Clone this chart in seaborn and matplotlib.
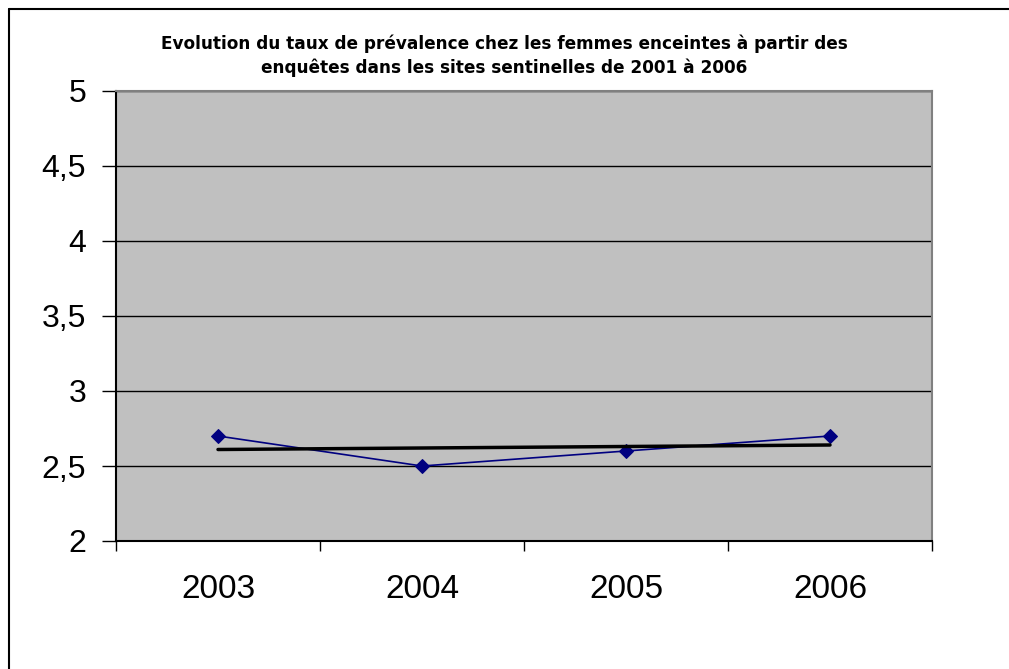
import numpy as np
import pandas as pd
import matplotlib
matplotlib.use("Agg")
import matplotlib.pyplot as plt
from matplotlib.lines import Line2D
import seaborn as sns

# data
years = ["2003", "2004", "2005", "2006"]
taux = [2.7, 2.5, 2.6, 2.7]
title = ("Evolution du taux de prévalence chez les femmes enceintes à partir des\n"
         "enquêtes dans les sites sentinelles de 2001 à 2006")

df = pd.DataFrame({"x": np.arange(len(years)), "annee": years, "taux": taux})

sns.set_style("white")
plt.rcParams['font.family'] = ['Liberation Sans', 'DejaVu Sans']
plt.rcParams['text.color'] = 'black'
plt.rcParams['xtick.color'] = 'black'
plt.rcParams['ytick.color'] = 'black'

fig = plt.figure(figsize=(10.09, 6.69), dpi=100)
ax = fig.add_axes([116 / 1009, 1 - 541 / 669, 816 / 1009, 450 / 669])
ax.set_facecolor("#C0C0C0")

# gridlines
ax.set_axisbelow(True)
ax.yaxis.grid(True, color="black", linewidth=1)
ax.xaxis.grid(False)

# series
sns.lineplot(data=df, x="x", y="taux", ax=ax, color="#000080", linewidth=1.2,
             marker="D", markersize=7, markeredgecolor="#000080")

# linear trendline
coef = np.polyfit(df["x"], df["taux"], 1)
ax.plot(df["x"], np.polyval(coef, df["x"]), color="black", linewidth=2.5,
        solid_capstyle="round")

ax.set_xlim(-0.5, len(years) - 0.5)
ax.set_ylim(2, 5)
ax.set_yticks(np.arange(2, 5.01, 0.5))
ax.set_yticklabels([f"{v:g}".replace(".", ",") for v in np.arange(2, 5.01, 0.5)])
ax.set_xticks(np.arange(len(years)))
ax.set_xticklabels(years)
ax.set_xticks(np.arange(-0.5, len(years)), minor=True)
ax.tick_params(axis="x", which="major", length=0, pad=24, labelsize=24)
ax.tick_params(axis="x", which="minor", length=7, width=1, color="black", direction="out")
ax.tick_params(axis="y", length=10, width=1, color="black", direction="out", labelsize=23, pad=11.5)
ax.tick_params(bottom=True, left=True, which="both")
ax.set_xlabel("")
ax.set_ylabel("")

for side in ["left", "bottom"]:
    ax.spines[side].set_color("black")
    ax.spines[side].set_linewidth(1.5)
for side in ["top", "right"]:
    ax.spines[side].set_color("#808080")
    ax.spines[side].set_linewidth(1.5)

fig.text(0.5, 1 - 56 / 669, title, ha="center", va="center", fontsize=12.2,
         fontweight="bold", linespacing=1.4, family=["DejaVu Sans"])

# outer chart border (top and left)
fig.add_artist(Line2D([9 / 1009, 1], [1 - 9 / 669, 1 - 9 / 669], color="black", linewidth=1.5))
fig.add_artist(Line2D([9 / 1009, 9 / 1009], [0, 1 - 9 / 669], color="black", linewidth=1.5))

plt.savefig("out.png", dpi=100)
